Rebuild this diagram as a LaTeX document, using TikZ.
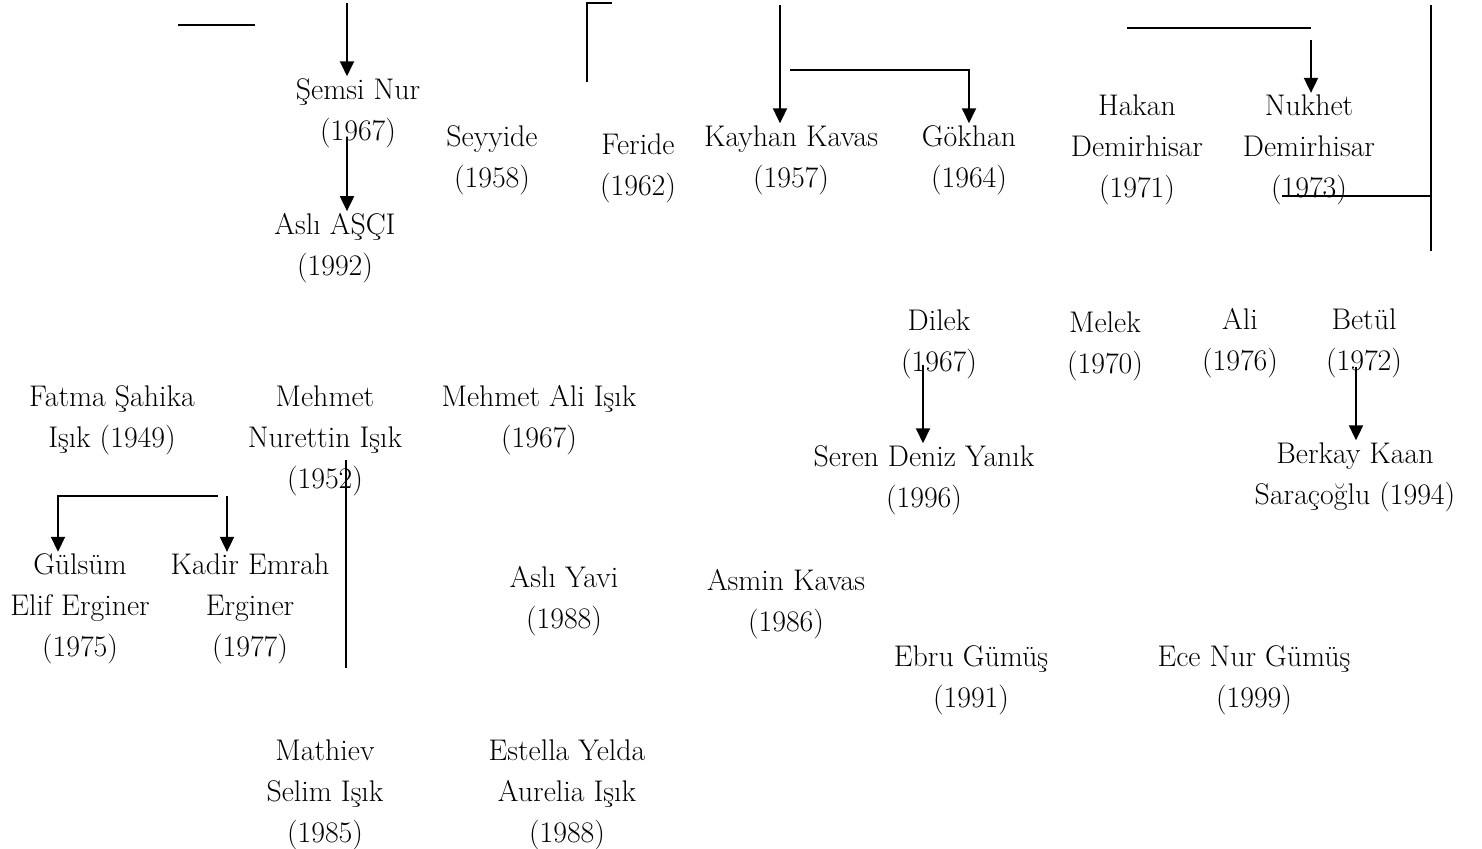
\documentclass[tikz,border=0pt]{standalone}
\usetikzlibrary{arrows.meta}
\tikzset{
  person/.style={align=center, inner sep=1pt, font=\fontsize{17}{23.3}\selectfont},
  tie/.style={line width=1.1pt},
  down/.style={line width=1.1pt, -{Triangle[length=0.3cm,width=0.28cm]}}
}
\begin{document}
\begin{tikzpicture}[x=0.02cm, y=-0.02cm]
    \useasboundingbox (0,0) rectangle (1482,849);

    \node[person] (semsi) at (358,113) {Şemsi Nur\\(1967)};
    \node[person] (asliasci) at (335,248) {Aslı AŞÇI\\(1992)};
    \node[person] (seyyide) at (492,160) {Seyyide\\(1958)};
    \node[person] (feride) at (638,168) {Feride\\(1962)};
    \node[person] (kayhan) at (791,160) {Kayhan Kavas\\(1957)};
    \node[person] (gokhan) at (969,160) {Gökhan\\(1964)};
    \node[person] (hakan) at (1137,150) {Hakan\\Demirhisar\\(1971)};
    \node[person] (nukhet) at (1309,150) {Nukhet\\Demirhisar\\(1973)};

    \node[person] (dilek) at (939,344) {Dilek\\(1967)};
    \node[person] (melek) at (1105,346) {Melek\\(1970)};
    \node[person] (ali) at (1240,343) {Ali\\(1976)};
    \node[person] (betul) at (1364,343) {Betül\\(1972)};
    \node[person] (seren) at (924,480) {Seren Deniz Yanık\\(1996)};
    \node[person] (berkay) at (1355,477) {Berkay Kaan\\Saraçoğlu (1994)};

    \node[person] (fatma) at (112,420) {Fatma Şahika\\Işık (1949)};
    \node[person] (nurettin) at (325,441) {Mehmet\\Nurettin Işık\\(1952)};
    \node[person] (mehmetali) at (539,420) {Mehmet Ali Işık\\(1967)};
    \node[person] (gulsum) at (80,609) {Gülsüm\\Elif Erginer\\(1975)};
    \node[person] (kadir) at (250,609) {Kadir Emrah\\Erginer\\(1977)};
    \node[person] (asliyavi) at (564,601) {Aslı Yavi\\(1988)};
    \node[person] (asmin) at (786,604) {Asmin Kavas\\(1986)};
    \node[person] (ebru) at (971,680) {Ebru Gümüş\\(1991)};
    \node[person] (ecenur) at (1254,680) {Ece Nur Gümüş\\(1999)};
    \node[person] (mathiev) at (325,795) {Mathiev\\Selim Işık\\(1985)};
    \node[person] (estella) at (567,795) {Estella Yelda\\Aurelia Işık\\(1988)};

    % top row strokes
    \coordinate (stubL) at (178,25);
    \coordinate (stubR) at (255,25);
    \draw[tie] (stubL) -- (stubR);

    \coordinate (semsiIn) at (347,3);
    \draw[down] (semsiIn) -- (semsiIn |- semsi.north);
    \coordinate (semsiOut) at (347,138);
    \draw[down] (semsiOut) -- (semsiOut |- asliasci.north);

    \coordinate (ferA) at (612,3);
    \coordinate (ferB) at (587,3);
    \coordinate (ferC) at (587,82);
    \draw[tie] (ferA) -- (ferB) -- (ferC);

    \coordinate (kayhanIn) at (780,5);
    \draw[down] (kayhanIn) -- (kayhanIn |- kayhan.north);
    \coordinate (gokhanIn) at (790,70);
    \draw[down] (gokhanIn) -- (gokhanIn -| gokhan.north) -- (gokhan.north);

    \coordinate (nukhetA) at (1127,28);
    \coordinate (nukhetB) at (1311,28);
    \draw[tie] (nukhetA) -- (nukhetB);
    \coordinate (nukhetIn) at (1311,40);
    \draw[down] (nukhetIn) -- (nukhetIn |- nukhet.north);

    \coordinate (rightTop) at (1431,5);
    \coordinate (rightBot) at (1431,251);
    \coordinate (rightArm) at (1282,196);
    \draw[tie] (rightTop) -- (rightBot);
    \draw[tie] (rightArm) -- (rightArm -| rightTop);

    % middle strokes
    \coordinate (dilekOut) at (923,365);
    \draw[down] (dilekOut) -- (dilekOut |- seren.north);
    \coordinate (betulOut) at (1356,367);
    \draw[down] (betulOut) -- (betulOut |- berkay.north);

    \coordinate (nurettinA) at (346,460);
    \coordinate (nurettinB) at (346,668);
    \draw[tie] (nurettinA) -- (nurettinB);

    \coordinate (sibR) at (218,496);
    \coordinate (sibL) at (58,496);
    \draw[down] (sibR) -- (sibL) -- (sibL |- gulsum.north);
    \coordinate (kadirIn) at (227,496);
    \draw[down] (kadirIn) -- (kadirIn |- kadir.north);
\end{tikzpicture}
\end{document}
